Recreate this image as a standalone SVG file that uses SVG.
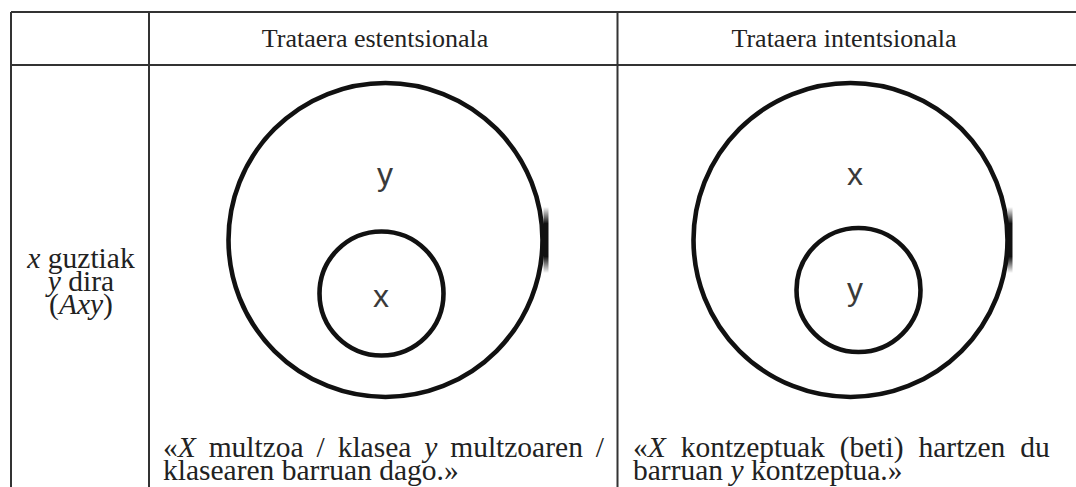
<svg xmlns="http://www.w3.org/2000/svg" width="1076" height="487" viewBox="0 0 1076 487">
  <defs>
    <style>
      .grid { stroke: #333; stroke-width: 2; fill: none; }
      .serif { font-family: "Liberation Serif", "DejaVu Serif", serif; fill: #222; }
      .hdr { font-size: 26px; text-anchor: middle; }
      .body { font-size: 29.5px; }
      .lbl { font-size: 29.5px; text-anchor: middle; }
      .circ { fill: none; stroke: #111; stroke-width: 4.6; }
      .ven { font-family: "Liberation Sans", Arial, sans-serif; font-size: 32px; fill: #3a3a3a; text-anchor: middle; }
      .it { font-style: italic; }
    </style>
    <linearGradient id="blob" x1="0" y1="0" x2="0" y2="1">
      <stop offset="0" stop-color="#111" stop-opacity="0"/>
      <stop offset="0.25" stop-color="#111" stop-opacity="1"/>
      <stop offset="0.75" stop-color="#111" stop-opacity="1"/>
      <stop offset="1" stop-color="#111" stop-opacity="0"/>
    </linearGradient>
  </defs>
  <rect width="1076" height="487" fill="#fff"/>

  <g id="table">
    <line class="grid" x1="11" y1="12" x2="1076" y2="12"/>
    <line class="grid" x1="11" y1="65" x2="1076" y2="65"/>
    <line class="grid" x1="11" y1="12" x2="11" y2="487"/>
    <line class="grid" x1="149" y1="12" x2="149" y2="487"/>
    <line class="grid" x1="617.5" y1="12" x2="617.5" y2="487"/>
  </g>

  <g id="header-ext">
    <text class="serif hdr" x="375" y="47">Trataera estentsionala</text>
  </g>
  <g id="header-int">
    <text class="serif hdr" x="844" y="47">Trataera intentsionala</text>
  </g>

  <g id="row-label">
    <text class="serif lbl" x="81" y="268"><tspan class="it">x</tspan> guztiak</text>
    <text class="serif lbl" x="81" y="291"><tspan class="it">y</tspan> dira</text>
    <text class="serif lbl" x="81" y="314">(<tspan class="it">Axy</tspan>)</text>
  </g>

  <g id="venn-ext">
    <circle class="circ" cx="385.5" cy="240" r="157"/>
    <rect x="543.5" y="207" width="5" height="66" fill="url(#blob)"/>
    <circle class="circ" cx="381.5" cy="293.5" r="62"/>
    <text class="ven" x="385" y="185">y</text>
    <text class="ven" x="381" y="307">x</text>
  </g>

  <g id="venn-int">
    <circle class="circ" cx="850.5" cy="240" r="157"/>
    <rect x="1007.5" y="207" width="5" height="66" fill="url(#blob)"/>
    <circle class="circ" cx="858.5" cy="290" r="62"/>
    <text class="ven" x="855" y="185">x</text>
    <text class="ven" x="855" y="300">y</text>
  </g>

  <g id="caption-ext">
    <text class="serif body" x="163" y="457" word-spacing="5.5">«<tspan class="it">X</tspan> multzoa / klasea <tspan class="it">y</tspan> multzoaren /</text>
    <text class="serif body" x="163" y="480">klasearen barruan dago.»</text>
  </g>

  <g id="caption-int">
    <text class="serif body" x="633" y="457" word-spacing="7.5">«<tspan class="it">X</tspan> kontzeptuak (beti) hartzen du</text>
    <text class="serif body" x="633" y="480">barruan <tspan class="it">y</tspan> kontzeptua.»</text>
  </g>
</svg>
